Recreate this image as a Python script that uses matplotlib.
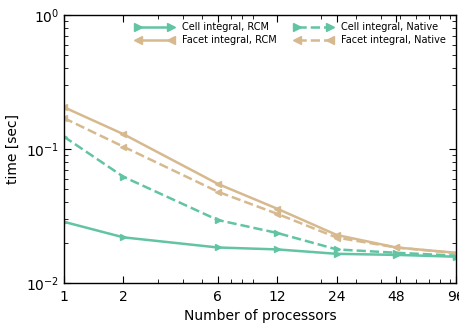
import matplotlib
matplotlib.use('Agg')
import matplotlib.pyplot as plt
from matplotlib.ticker import FixedLocator, NullFormatter

# Number of processors
procs = [1, 2, 6, 12, 24, 48, 96]

# Timings in seconds
cell_rcm = [0.0286, 0.0219, 0.0184, 0.0178, 0.0165, 0.0162, 0.0157]
facet_rcm = [0.205, 0.129, 0.0549, 0.0358, 0.0228, 0.0184, 0.0168]
cell_native = [0.1235, 0.062, 0.0295, 0.0236, 0.0178, 0.0168, 0.0160]
facet_native = [0.170, 0.104, 0.048, 0.0328, 0.0218, 0.0184, 0.0167]

green = '#62c4a3'
tan = '#d7b98f'

fig = plt.figure(figsize=(4.6, 3.26), dpi=100)
ax = fig.add_axes([0.139, 0.132, 0.852, 0.822])

lw = 1.8
ms = 5
ax.plot(procs, cell_rcm, '-', marker='>', color=green, lw=lw, ms=ms, label='Cell integral, RCM')
ax.plot(procs, facet_rcm, '-', marker='<', color=tan, lw=lw, ms=ms, label='Facet integral, RCM')
ax.plot(procs, cell_native, '--', marker='>', color=green, lw=lw, ms=ms, label='Cell integral, Native')
ax.plot(procs, facet_native, '--', marker='<', color=tan, lw=lw, ms=ms, label='Facet integral, Native')

ax.set_xscale('log')
ax.set_yscale('log')
ax.set_xlim(1, 96)
ax.set_ylim(1e-2, 1e0)

ax.xaxis.set_major_locator(FixedLocator(procs))
ax.set_xticklabels([str(p) for p in procs])
ax.xaxis.set_minor_formatter(NullFormatter())

ax.tick_params(which='both', direction='in', top=True, right=True, labelsize=10)
ax.tick_params(which='major', length=5, width=0.8)
ax.tick_params(which='minor', length=3, width=0.6)
ax.tick_params(axis='x', pad=5)

for s in ax.spines.values():
    s.set_linewidth(1.0)

ax.set_xlabel('Number of processors', fontsize=10)
ax.set_ylabel('time [sec]', fontsize=10)

ax.legend(ncol=2, frameon=False, fontsize=7.0, numpoints=2, handlelength=4.0,
          loc='upper left', bbox_to_anchor=(0.181, 0.974), borderaxespad=0,
          borderpad=0, columnspacing=1.85, handletextpad=0.8,
          labelspacing=0.35, markerscale=1.2)

fig.savefig('out.png', dpi=100)
